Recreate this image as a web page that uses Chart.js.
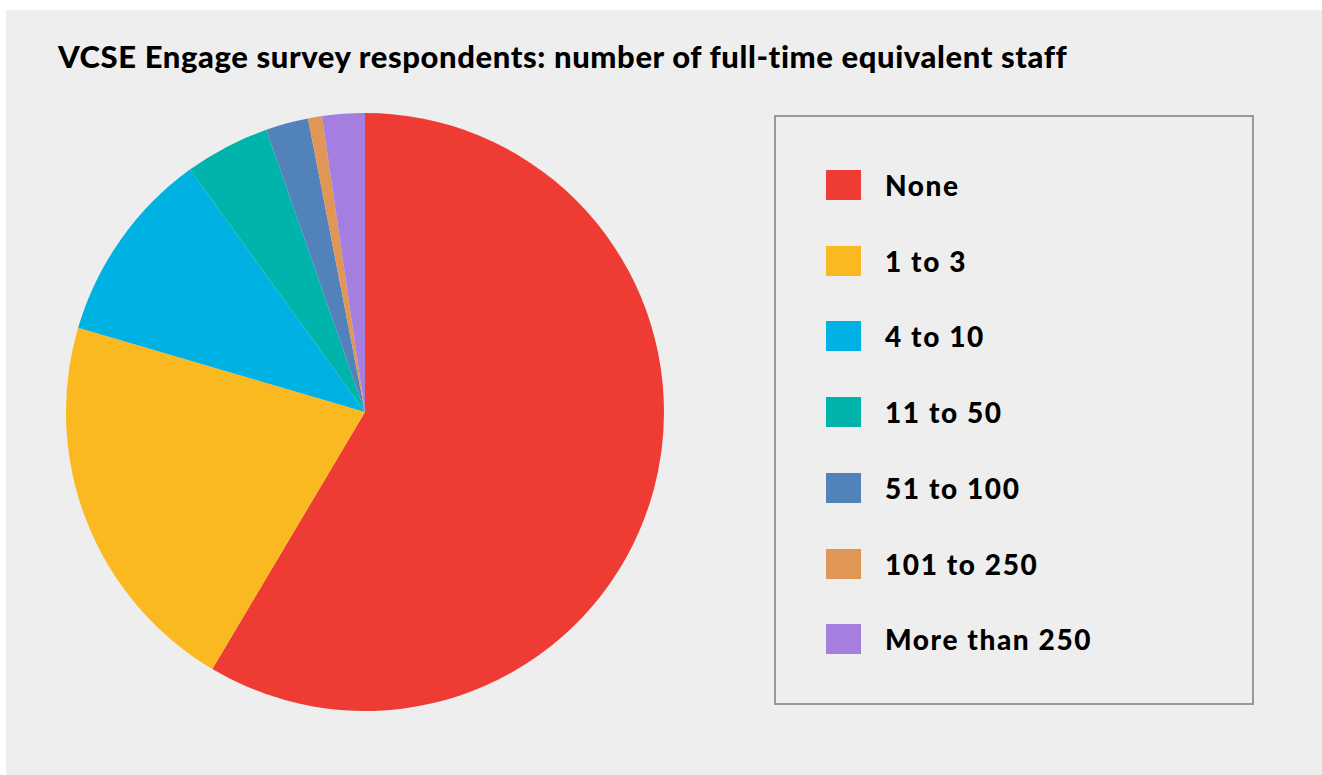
<!DOCTYPE html>
<html>
<head>
<meta charset="utf-8">
<script src="https://cdn.jsdelivr.net/npm/chart.js@4"></script>
<style>
  html, body { margin: 0; padding: 0; background: #ffffff; }
  body { width: 1322px; height: 775px; position: relative; overflow: hidden; font-family: Lato, "Noto Sans", sans-serif; }
  #panel { position: absolute; left: 6px; top: 10px; width: 1316px; height: 765px; background: #eeeeee; }
  #title { position: absolute; left: 58px; top: 37px; font-weight: 900; font-size: 31px; color: #000; white-space: nowrap; letter-spacing: 0.6px; }
  #pieBox { position: absolute; left: 66px; top: 113px; width: 598px; height: 598px; }
  #legend { position: absolute; left: 774px; top: 115px; width: 476px; height: 586px; border: 2px solid #9a9a9a; }
  .item { position: absolute; left: 50px; height: 30px; display: flex; align-items: center; }
  .swatch { width: 35px; height: 30px; margin-right: 24px; }
  .label { font-weight: 900; font-size: 28px; color: #000; white-space: nowrap; letter-spacing: 1.6px; }
</style>
</head>
<body>
<div id="panel"></div>
<div id="title">VCSE Engage survey respondents: number of full-time equivalent staff</div>
<div id="pieBox"><canvas id="staffChart"></canvas></div>
<div id="legend"></div>
<script>
const categories = ['None', '1 to 3', '4 to 10', '11 to 50', '51 to 100', '101 to 250', 'More than 250'];
const shares = [58.5, 21.0, 10.5, 4.6, 2.3, 0.75, 2.3];
const colours = ['#ee3b33', '#fbb921', '#00b2e3', '#00b4ac', '#5282ba', '#e09654', '#a57fdf'];

// HTML legend built from the same arrays
const legendEl = document.getElementById('legend');
categories.forEach((name, i) => {
    const item = document.createElement('div');
    item.className = 'item';
    item.style.top = (53 + i * 75.7) + 'px';
    item.innerHTML = '<div class="swatch" style="background:' + colours[i] + '"></div><span class="label">' + name + '</span>';
    legendEl.appendChild(item);
});

const ctx = document.getElementById('staffChart').getContext('2d');
new Chart(ctx, {
    type: 'pie',
    data: {
        labels: categories,
        datasets: [{
            data: shares,
            backgroundColor: colours,
            borderWidth: 0
        }]
    },
    options: {
        responsive: true,
        maintainAspectRatio: false,
        layout: { padding: 0 },
        plugins: {
            legend: { display: false },
            title: { display: false },
            tooltip: { enabled: false }
        },
        animation: { duration: 0 }
    }
});
</script>
</body>
</html>
